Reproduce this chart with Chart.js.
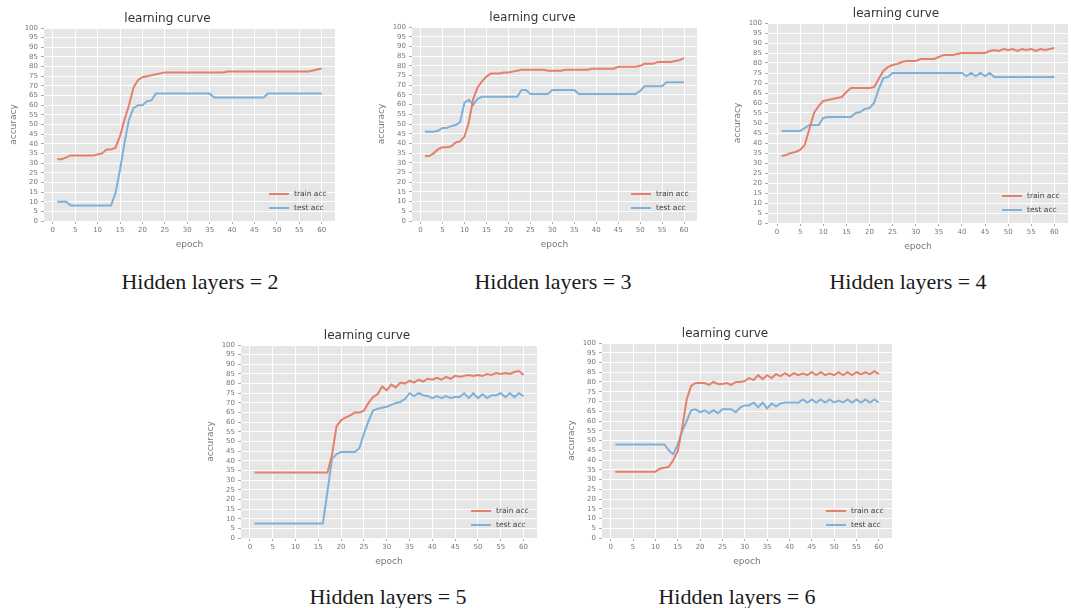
<!DOCTYPE html>
<html>
<head>
<meta charset="utf-8">
<script src="https://cdn.jsdelivr.net/npm/chart.js@4.4.0/dist/chart.umd.min.js"></script>
<style>
  body { margin: 0; background: #fff; width: 1071px; height: 608px; position: relative; overflow: hidden; }
  canvas { position: absolute; }
  .cap {
    position: absolute; transform: translate(-50%, -50%); white-space: nowrap;
    font-family: "Liberation Serif", "DejaVu Serif", serif; font-size: 22px; color: #1a1a1a;
  }
</style>
</head>
<body>
<script>
// epochs (x values)
const epochs = [1,2,3,4,5,6,7,8,9,10,11,12,13,14,15,16,17,18,19,20,
  21,22,23,24,25,26,27,28,29,30,31,32,33,34,35,36,37,38,39,40,
  41,42,43,44,45,46,47,48,49,50,51,52,53,54,55,56,57,58,59,60];

// Hidden layers = 2
const hl2Train = [32,32,33,34,34,34,34,34,34,34.5, 35,37,37,38,44,52.5,60,69,73,74.5,
  75,75.5,76,76.5,77,77,77,77,77,77, 77,77,77,77,77,77,77,77,77.5,77.5,
  77.5,77.5,77.5,77.5,77.5,77.5,77.5,77.5,77.5,77.5, 77.5,77.5,77.5,77.5,77.5,77.5,77.5,78,78.5,79];
const hl2Test = [10,10,10,8,8,8,8,8,8,8, 8,8,8,14.5,26.5,40.5,52.5,58.5,60,60,
  62,62.5,66,66,66,66,66,66,66,66, 66,66,66,66,66,64,64,64,64,64,
  64,64,64,64,64,64,64,66,66,66, 66,66,66,66,66,66,66,66,66,66];

// Hidden layers = 3
const hl3Train = [33.5,33.5,35,37,38,38,38.5,40.5,41,43.5, 51,63,69,72,74.5,76,76,76,76.5,76.5,
  77,77.5,78,78,78,78,78,78,77.5,77.5, 77.5,77.5,78,78,78,78,78,78,78.5,78.5,
  78.5,78.5,78.5,78.5,79.5,79.5,79.5,79.5,79.5,80, 81,81,81,82,82,82,82,82.5,83,84];
const hl3Test = [46,46,46,46.5,48,48,49,49.5,51,61, 62.5,60,63,64,64,64,64,64,64,64,
  64,64,67.5,67.5,65.5,65.5,65.5,65.5,65.5,67.5, 67.5,67.5,67.5,67.5,67.5,65.5,65.5,65.5,65.5,65.5,
  65.5,65.5,65.5,65.5,65.5,65.5,65.5,65.5,65.5,67, 69.5,69.5,69.5,69.5,69.5,71.5,71.5,71.5,71.5,71.5];

// Hidden layers = 4
const hl4Train = [33.5,34,35,35.5,36.5,39,47,55,58.5,61, 61.5,62,62.5,63,65.5,67.5,67.5,67.5,67.5,67.5,
  68,72,76,78,79,79.5,80.5,81,81,81, 82,82,82,82,83,84,84,84,84.5,85,
  85,85,85,85,85,86,86.5,86,87,86.5, 87,86,87,86.5,87,86,87,86.5,87,87.5];
const hl4Test = [46,46,46,46,46,47.5,49,49,49,52.5, 53,53,53,53,53,53,55,55.5,57,57.5,
  60,67,72.5,73,75,75,75,75,75,75, 75,75,75,75,75,75,75,75,75,75,
  73.5,75,73.5,75,73.5,75,73,73,73,73, 73,73,73,73,73,73,73,73,73,73];

// Hidden layers = 5
const hl5Train = [34,34,34,34,34,34,34,34,34,34, 34,34,34,34,34,34,34,43,58,61,
  62.5,63.5,65,65,66,70,73,74.5,78.5,76.5, 79.5,78,80.5,80,81.5,80.5,82,81,82.5,82,
  83,82,83.5,82.5,84,83.5,84,84.5,84,84.5, 84,85,84.5,85.5,85,85.5,85,86,86.5,84.5];
const hl5Test = [7.5,7.5,7.5,7.5,7.5,7.5,7.5,7.5,7.5,7.5, 7.5,7.5,7.5,7.5,7.5,7.5,24,41,43.5,44.5,
  44.5,44.5,44.5,46.5,54,60.5,66,67,67.5,68, 69,70,70.5,72,75,73.5,75,74,73.5,72.5,
  73.5,72.5,73.5,72.5,73,73,75,72.5,75,72.5, 74.5,72.5,74,74,75,73,75,73,75,73.5];

// Hidden layers = 6
const hl6Train = [34,34,34,34,34,34,34,34,34,34, 35.5,36,36.5,40,44.5,56.5,71,78,79.5,79.5,
  79.5,78.5,80,79,79,79.5,78.5,80,80,80.5, 82,81,83.5,81.5,83.5,82,84,83,84.5,83,
  84.5,83.5,84.5,83.5,85,83.5,85,83.5,84.5,83.5, 85,83.5,85,83.5,85,84,85,84,85.5,84];
const hl6Test = [48,48,48,48,48,48,48,48,48,48, 48,48,45,43,48,55,60,65.5,66,64.5,
  65.5,64,65.5,64,66,66,66,64.5,67,68, 68,69.5,67,69.5,66.5,69,67.5,69,69.5,69.5,
  69.5,69.5,71,69.5,71,69.5,71,69.5,71,69.5, 70.5,69.5,71,69.5,71,69.5,71,69.5,71,69.5];

const yTicks = { min: 0, max: 100, step: 5 };
const xTicks = { min: -1.95, max: 62.95, step: 5 };

const RED = "#E5806C";
const BLUE = "#7FB0D8";

// plot area rectangles on the page (left, top, right, bottom) + caption
const panels = [
  { L: 44,  T: 28,  R: 335,  B: 221, train: hl2Train, test: hl2Test, cap: "Hidden layers = 2", cx: 200, cy: 282 },
  { L: 412, T: 27,  R: 697,  B: 221, train: hl3Train, test: hl3Test, cap: "Hidden layers = 3", cx: 553, cy: 282 },
  { L: 768, T: 23,  R: 1068, B: 223, train: hl4Train, test: hl4Test, cap: "Hidden layers = 4", cx: 908, cy: 282 },
  { L: 241, T: 345, R: 537,  B: 538, train: hl5Train, test: hl5Test, cap: "Hidden layers = 5", cx: 388, cy: 597 },
  { L: 602, T: 343, R: 892,  B: 538, train: hl6Train, test: hl6Test, cap: "Hidden layers = 6", cx: 737, cy: 597 }
];

const Y_W = 44, TITLE_H = 22, X_H = 34, PAD_R = 2;

const plotBg = {
  id: "plotBg",
  beforeDraw(chart) {
    const { ctx, chartArea: a } = chart;
    ctx.save();
    ctx.fillStyle = "#E6E6E6";
    ctx.fillRect(a.left, a.top, a.right - a.left, a.bottom - a.top);
    ctx.restore();
  }
};

// legend drawn inside the plot, lower right (like matplotlib loc='lower right')
const legendInside = {
  id: "legendInside",
  afterDatasetsDraw(chart) {
    const { ctx, chartArea: a } = chart;
    ctx.save();
    ctx.font = '7.5px "DejaVu Sans"';
    ctx.textBaseline = "middle";
    chart.data.datasets.forEach((ds, i) => {
      const y = a.bottom - 27 + i * 14;
      ctx.strokeStyle = ds.borderColor;
      ctx.lineWidth = 2;
      ctx.beginPath();
      ctx.moveTo(a.right - 66, y);
      ctx.lineTo(a.right - 46, y);
      ctx.stroke();
      ctx.fillStyle = "#444";
      ctx.fillText(ds.label, a.right - 41, y);
    });
    ctx.restore();
  }
};

const toXY = vals => vals.map((v, i) => ({ x: epochs[i], y: v }));

panels.forEach(p => {
  const cv = document.createElement("canvas");
  const w = p.R - p.L + Y_W + PAD_R;
  const h = p.B - p.T + TITLE_H + X_H;
  cv.width = w; cv.height = h;
  cv.style.left = (p.L - Y_W) + "px";
  cv.style.top = (p.T - TITLE_H) + "px";
  cv.style.width = w + "px"; cv.style.height = h + "px";
  document.body.appendChild(cv);

  new Chart(cv, {
    type: "line",
    data: {
      datasets: [
        { label: "train acc", data: toXY(p.train), borderColor: RED, borderWidth: 2, pointRadius: 0, tension: 0 },
        { label: "test acc", data: toXY(p.test), borderColor: BLUE, borderWidth: 2, pointRadius: 0, tension: 0 }
      ]
    },
    options: {
      responsive: false,
      animation: false,
      devicePixelRatio: 1,
      layout: { padding: { top: 0, left: 0, right: PAD_R, bottom: 0 } },
      plugins: {
        legend: { display: false },
        tooltip: { enabled: false },
        title: {
          display: true, text: "learning curve", color: "#333",
          font: { family: "DejaVu Sans", size: 12, weight: "normal" },
          padding: { top: 6, bottom: 1.6 }
        }
      },
      scales: {
        x: {
          type: "linear", min: xTicks.min, max: xTicks.max,
          afterFit(s) { s.height = X_H; },
          ticks: { stepSize: xTicks.step, includeBounds: false, autoSkip: false, maxRotation: 0,
                   color: "#777", padding: 2, font: { family: "DejaVu Sans", size: 7 } },
          grid: { color: "#fff", lineWidth: 1, tickLength: 3, tickColor: "#aaa" },
          border: { display: false },
          title: { display: true, text: "epoch", color: "#777",
                   font: { family: "DejaVu Sans", size: 9 }, padding: { top: 0, bottom: 5 } }
        },
        y: {
          min: yTicks.min, max: yTicks.max,
          afterFit(s) { s.width = Y_W; },
          ticks: { stepSize: yTicks.step, autoSkip: false, color: "#777", padding: 3,
                   font: { family: "DejaVu Sans", size: 7 } },
          grid: { color: "#fff", lineWidth: 1, tickLength: 3, tickColor: "#aaa" },
          border: { display: false },
          title: { display: true, text: "accuracy", color: "#777",
                   font: { family: "DejaVu Sans", size: 9 }, padding: { top: 8, bottom: 0 } }
        }
      }
    },
    plugins: [plotBg, legendInside]
  });

  const cap = document.createElement("div");
  cap.className = "cap";
  cap.textContent = p.cap;
  cap.style.left = p.cx + "px";
  cap.style.top = p.cy + "px";
  document.body.appendChild(cap);
});
</script>
</body>
</html>
